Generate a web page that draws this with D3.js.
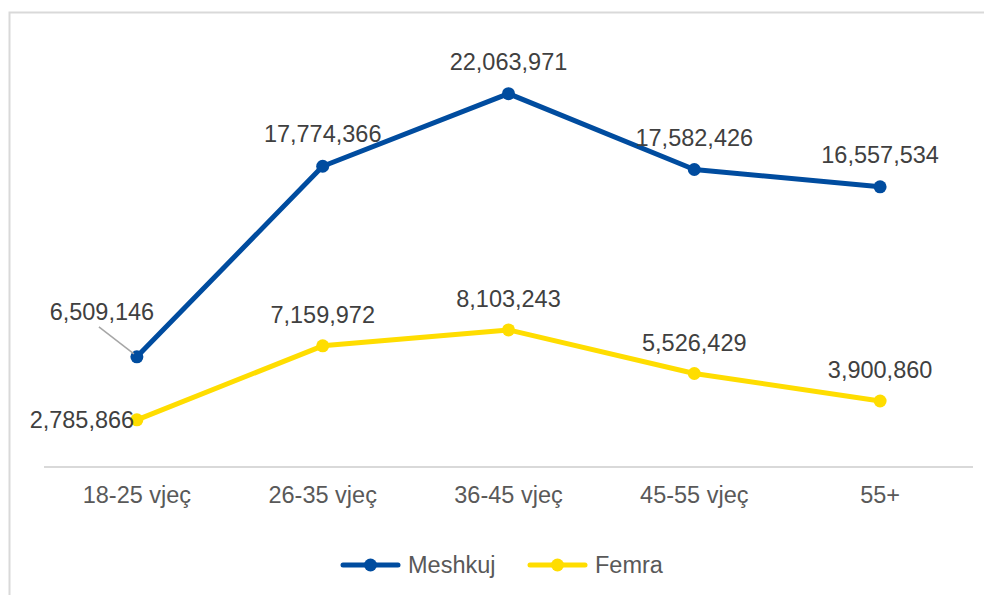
<!DOCTYPE html>
<html>
<head>
<meta charset="utf-8">
<script src="https://cdn.jsdelivr.net/npm/d3@7"></script>
<style>
  body { margin: 0; background: #fff; }
  text { font-family: "Liberation Sans", Arial, sans-serif; }
</style>
</head>
<body>
<div id="chart"></div>
<script>
const categories = ['18-25 vjeç', '26-35 vjeç', '36-45 vjeç', '45-55 vjeç', '55+'];
const meshkuj = [6509146, 17774366, 22063971, 17582426, 16557534];
const femra = [2785866, 7159972, 8103243, 5526429, 3900860];
const seriesNames = ['Meshkuj', 'Femra'];
const seriesColors = ['#004C9F', '#FFDD00'];

const width = 984, height = 595;
const margin = { top: 44, right: 11, bottom: 128, left: 44 };

const svg = d3.select('#chart').append('svg')
    .attr('width', width)
    .attr('height', height);

// outer frame (only top/left visible in the picture)
svg.append('rect')
    .attr('x', 9.5).attr('y', 12.5)
    .attr('width', width + 20).attr('height', height + 20)
    .attr('fill', 'none')
    .attr('stroke', '#d9d9d9')
    .attr('stroke-width', 2);

const xScale = d3.scaleBand()
    .domain(categories)
    .range([margin.left, width - margin.right]);

const yScale = d3.scaleLinear()
    .domain([0, 25000000])
    .range([height - margin.bottom, margin.top]);

const xc = c => xScale(c) + xScale.bandwidth() / 2;

// axis baseline
svg.append('line')
    .attr('x1', margin.left).attr('x2', width - margin.right)
    .attr('y1', yScale(0)).attr('y2', yScale(0))
    .attr('stroke', '#d9d9d9')
    .attr('stroke-width', 2);

const xAxis = svg.append('g')
    .attr('transform', 'translate(0,' + yScale(0) + ')')
    .call(d3.axisBottom(xScale).tickSize(0).tickPadding(19));
xAxis.select('.domain').remove();
xAxis.selectAll('text')
    .style('font-size', '23.5px')
    .style('fill', '#595959');

const series = [
  { name: seriesNames[0], values: meshkuj, color: seriesColors[0],
    labelDy: [-45, -32, -32, -32, -32], labelDx: [-35, 0, 0, 0, 0] },
  { name: seriesNames[1], values: femra, color: seriesColors[1],
    labelDy: [0, -31, -31, -31, -31], labelDx: [-55, 0, 0, 0, 0] }
];

const line = d3.line()
    .x((d, i) => xc(categories[i]))
    .y(d => yScale(d));

series.forEach(s => {
  const g = svg.append('g');
  g.append('path')
      .datum(s.values)
      .attr('d', line)
      .attr('fill', 'none')
      .attr('stroke', s.color)
      .attr('stroke-width', 5)
      .attr('stroke-linejoin', 'round');
  g.selectAll('circle')
      .data(s.values)
    .enter().append('circle')
      .attr('cx', (d, i) => xc(categories[i]))
      .attr('cy', d => yScale(d))
      .attr('r', 6.5)
      .attr('fill', s.color);
});

// leader line for first male label
svg.append('line')
    .attr('x1', xc(categories[0]) - 38).attr('y1', yScale(meshkuj[0]) - 30)
    .attr('x2', xc(categories[0]) - 3).attr('y2', yScale(meshkuj[0]) - 3)
    .attr('stroke', '#a6a6a6')
    .attr('stroke-width', 1.5);

series.forEach(s => {
  svg.append('g').selectAll('text')
      .data(s.values)
    .enter().append('text')
      .attr('x', (d, i) => xc(categories[i]) + s.labelDx[i])
      .attr('y', (d, i) => yScale(d) + s.labelDy[i])
      .attr('dy', '0.35em')
      .attr('text-anchor', 'middle')
      .style('font-size', '23.5px')
      .style('fill', '#404040')
      .text(d => d3.format(',')(d));
});

// legend
const legend = svg.append('g').attr('transform', 'translate(0,565)');
const legendX = [343, 530];
series.forEach((s, i) => {
  const lg = legend.append('g').attr('transform', 'translate(' + legendX[i] + ',0)');
  lg.append('line')
      .attr('x1', 0).attr('x2', 55)
      .attr('stroke', s.color)
      .attr('stroke-width', 5)
      .attr('stroke-linecap', 'round');
  lg.append('circle')
      .attr('cx', 27.5).attr('r', 6.5)
      .attr('fill', s.color);
  lg.append('text')
      .attr('x', 65)
      .attr('dy', '0.35em')
      .style('font-size', '23.5px')
      .style('fill', '#595959')
      .text(s.name);
});
</script>
</body>
</html>
